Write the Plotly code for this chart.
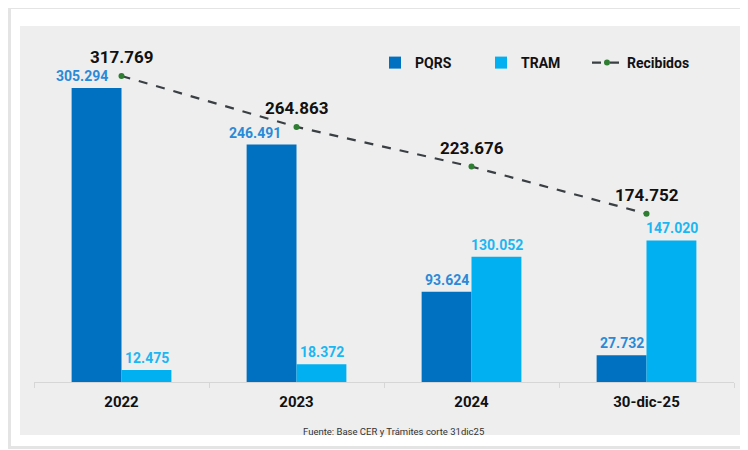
import plotly.graph_objects as go

categories = ["2022", "2023", "2024", "30-dic-25"]
pqrs = [305294, 246491, 93624, 27732]
tram = [12475, 18372, 130052, 147020]
recibidos = [317769, 264863, 223676, 174752]

def fmt(v):
    return f"{v:,}".replace(",", ".")

FONT = "Liberation Sans Narrow, Roboto, Arial, sans-serif"
C_PQRS = "#0070C0"
C_TRAM = "#00B0F0"

fig = go.Figure()
fig.add_trace(go.Bar(name="PQRS", x=categories, y=pqrs, marker=dict(color=C_PQRS, line=dict(width=0))))
fig.add_trace(go.Bar(name="TRAM", x=categories, y=tram, marker=dict(color=C_TRAM, line=dict(width=0))))
fig.add_trace(go.Scatter(
    name="Recibidos", x=categories, y=recibidos, mode="lines+markers",
    line=dict(color="#3a3f44", width=2.2, dash="dash"),
    marker=dict(color="#2e7d32", size=6),
))

# value labels (category index used as annotation position on the category axis)
pqrs_shift = [-15, -17, 0, 0]
for i, c in enumerate(categories):
    fig.add_annotation(x=i, y=pqrs[i], xref="x", yref="y", text=fmt(pqrs[i]), showarrow=False,
                       yanchor="bottom", xshift=-25 + pqrs_shift[i], yshift=2,
                       font=dict(family=FONT, size=14, color="#2a8ad8", weight="bold"))
    fig.add_annotation(x=i, y=tram[i], xref="x", yref="y", text=fmt(tram[i]), showarrow=False,
                       yanchor="bottom", xshift=25, yshift=2,
                       font=dict(family=FONT, size=14, color="#1cb6f2", weight="bold"))
    fig.add_annotation(x=i, y=recibidos[i], xref="x", yref="y", text=fmt(recibidos[i]), showarrow=False,
                       yanchor="bottom", yshift=7,
                       font=dict(family=FONT, size=17, color="#111111", weight="bold"))

# page is offset by the 8px body margin; work in page pixels and convert
OFF = 8
FW, FH = 748 - OFF, 450 - OFF
L, T, W, H = 34 - OFF, 30 - OFF, 700, 352
def px(x): return (x - OFF - L) / W
def py(y): return (T + H - (y - OFF)) / H

fig.add_annotation(x=px(393), y=py(431), xref="paper", yref="paper", text="Fuente: Base CER y Trámites corte 31dic25",
                   showarrow=False, yanchor="middle",
                   font=dict(family=FONT, size=9.5, color="#333333"))

# card shadow, card and panel
fig.add_shape(type="rect", xref="paper", yref="paper", x0=px(8), x1=px(760), y0=py(449), y1=py(8),
              fillcolor="#e4e4e4", line=dict(width=0), layer="below")
fig.add_shape(type="rect", xref="paper", yref="paper", x0=px(11), x1=px(760), y0=py(446), y1=py(9),
              fillcolor="white", line=dict(width=0), layer="below")
fig.add_shape(type="rect", xref="paper", yref="paper", x0=px(20), x1=px(740), y0=py(435), y1=py(26),
              fillcolor="#eeeeee", line=dict(width=0), layer="below")

fig.update_layout(
    width=FW, height=FH,
    margin=dict(l=L, r=FW - L - W, t=T, b=FH - T - H),
    paper_bgcolor="white", plot_bgcolor="rgba(0,0,0,0)",
    barmode="group", bargap=0.43, bargroupgap=0,
    font=dict(family=FONT, color="#111111"),
    showlegend=True,
    legend=dict(orientation="h", x=px(375), y=py(63), xanchor="left", yanchor="middle",
                bgcolor="rgba(0,0,0,0)", font=dict(family=FONT, size=14, color="#111111", weight="bold"),
                entrywidth=61, entrywidthmode="pixels", itemwidth=30, traceorder="normal"),
    xaxis=dict(type="category", range=[-0.5, 3.5], showgrid=False, showline=True, linecolor="#d6d6d6", linewidth=1,
               ticks="outside", tickson="boundaries", ticklen=5, tickcolor="#d6d6d6", ticklabelstandoff=6,
               tickfont=dict(family=FONT, size=15, color="#111111", weight="bold")),
    yaxis=dict(range=[0, 365500], visible=False, showgrid=False),
)

fig.write_html("out.html")
